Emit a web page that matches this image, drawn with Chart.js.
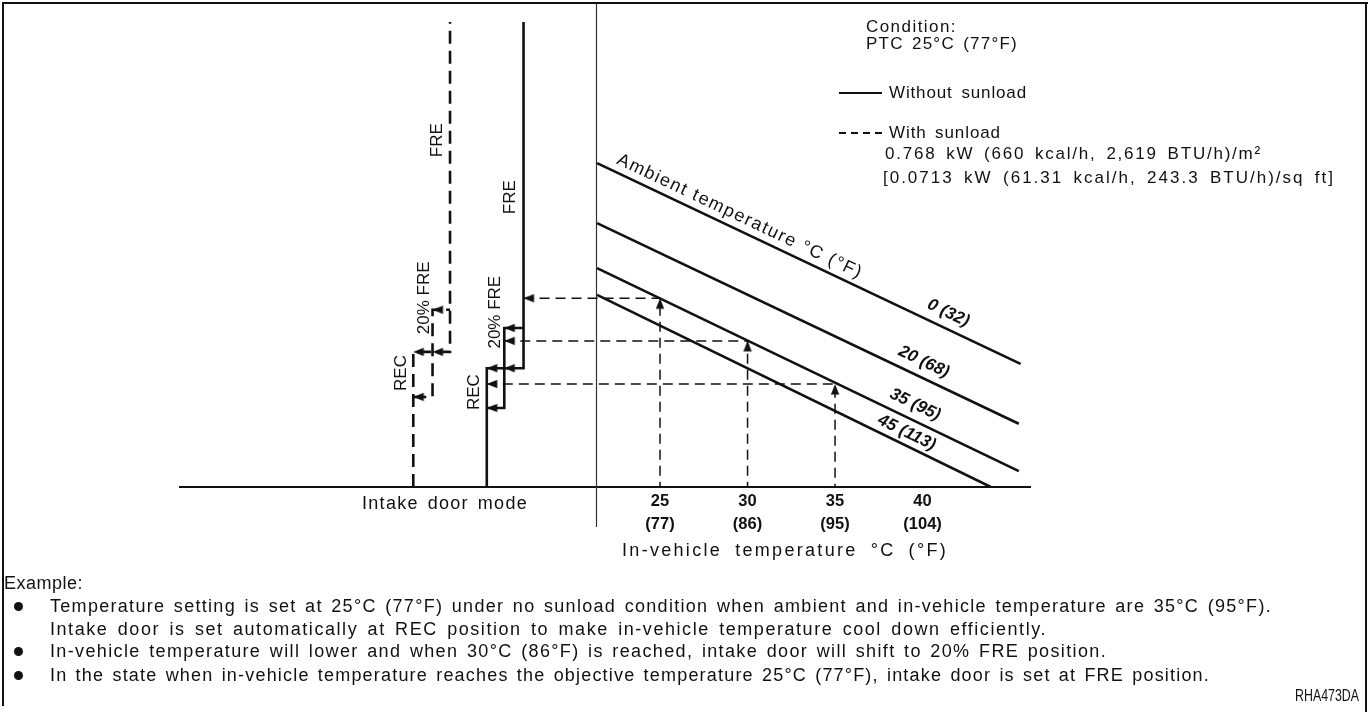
<!DOCTYPE html>
<html><head><meta charset="utf-8">
<script src="https://cdn.jsdelivr.net/npm/chart.js@4.4.1/dist/chart.umd.min.js"></script>
<style>
html,body{margin:0;padding:0;background:#fff;}
#wrap{position:relative;width:1372px;height:719px;overflow:hidden;background:#fff;}
#c{position:absolute;left:0;top:0;}
.t{position:absolute;white-space:nowrap;font-family:'Liberation Sans',Arial,sans-serif;font-size:18px;line-height:20px;color:#111;}
.lg{font-size:17px;}
.bl{position:absolute;background:#111;}
.dot{position:absolute;width:9px;height:9px;border-radius:50%;background:#111;}
</style></head><body>
<div id="wrap">
<canvas id="c" width="1372" height="719"></canvas>
<div class="bl" style="left:2px;top:2px;width:1366px;height:2px"></div>
<div class="bl" style="left:2px;top:2px;width:2px;height:704px"></div>
<div class="bl" style="left:1365px;top:2px;width:2px;height:710px"></div>

<div class="t lg" style="left:866px;top:17px" data-w="91">Condition:</div>
<div class="t lg" style="left:866px;top:34px" data-w="152">PTC 25°C (77°F)</div>
<div class="bl" style="left:839px;top:92px;width:43px;height:1.5px"></div>
<div class="t lg" style="left:889px;top:83px" data-w="138">Without sunload</div>
<div class="bl" style="left:839px;top:132px;width:7px;height:1.5px"></div>
<div class="bl" style="left:851px;top:132px;width:7px;height:1.5px"></div>
<div class="bl" style="left:863px;top:132px;width:7px;height:1.5px"></div>
<div class="bl" style="left:875px;top:132px;width:7px;height:1.5px"></div>
<div class="t lg" style="left:889px;top:123px" data-w="112">With sunload</div>
<div class="t lg" style="left:885px;top:144px" data-w="377">0.768 kW (660 kcal/h, 2,619 BTU/h)/m²</div>
<div class="t lg" style="left:883px;top:168px" data-w="452">[0.0713 kW (61.31 kcal/h, 243.3 BTU/h)/sq ft]</div>

<div class="t" style="left:362px;top:493px" data-w="166">Intake door mode</div>
<div class="t" style="left:622px;top:540px" data-w="326">In-vehicle temperature °C (°F)</div>

<div class="t" style="left:4px;top:573px" data-w="79">Example:</div>
<div class="dot" style="left:14px;top:602px"></div>
<div class="t" style="left:50px;top:596px" data-w="1222">Temperature setting is set at 25°C (77°F) under no sunload condition when ambient and in-vehicle temperature are 35°C (95°F).</div>
<div class="t" style="left:50px;top:619px" data-w="997">Intake door is set automatically at REC position to make in-vehicle temperature cool down efficiently.</div>
<div class="dot" style="left:14px;top:647px"></div>
<div class="t" style="left:50px;top:641px" data-w="1057">In-vehicle temperature will lower and when 30°C (86°F) is reached, intake door will shift to 20% FRE position.</div>
<div class="dot" style="left:14px;top:671px"></div>
<div class="t" style="left:50px;top:665px" data-w="1160">In the state when in-vehicle temperature reaches the objective temperature 25°C (77°F), intake door is set at FRE position.</div>
<div class="t" id="code" style="left:1295px;top:686px;font-size:16px;transform-origin:0 50%">RHA473DA</div>
</div>
<script>
// ---------- data (x: in-vehicle temperature °C, y: relative level 0-100) ----------
const tickTemps = [25, 30, 35, 40];
const tickFahr = ['(77)', '(86)', '(95)', '(104)'];

const ambientLabels = ['0 (32)', '20 (68)', '35 (95)', '45 (113)'];
const ambientStartX = [21.4, 21.4, 21.4, 21.4];
const ambientStartY = [67.6, 55.1, 45.7, 40.1];
const ambientEndX = [45.6, 45.5, 45.5, 43.9];
const ambientEndY = [25.7, 13.2, 3.3, 0];

const exampleTemps = [25, 30, 35];          // in-vehicle temperature
const exampleLevels = [39.4, 30.5, 21.5];   // where ambient 35 line is met

// intake door mode positions: REC, 20% FRE, FRE
const doorModes = ['REC', '20% FRE', 'FRE'];
const doorX = [15.1, 16.1, 17.2];         // without sunload
const doorXSun = [10.9, 12.0, 13.0];      // with sunload
const doorLevels = [24.8, 16.5, 33.2];    // REC top, REC bottom, 20% FRE top (without sunload)
const doorLevelsSun = [28.2, 18.8, 37.0]; // same, with sunload
const doorTop = 97.1;

const dividerX = 21.35;

// ---------- build datasets ----------
const INK = '#111';
function pts(xs, ys){ return xs.map((v,i)=>({x:v, y:ys[i]})); }

const datasets = [];
ambientLabels.forEach((lab,i)=>{
  datasets.push({label:'Ambient '+lab, data:pts([ambientStartX[i], ambientEndX[i]],[ambientStartY[i], ambientEndY[i]]),
    showLine:true, borderColor:INK, borderWidth:2.6, pointRadius:0, tension:0});
});
exampleTemps.forEach((t,i)=>{
  datasets.push({label:'guide'+t, data:pts([doorX[2-i], t, t],[exampleLevels[i], exampleLevels[i], 0]),
    showLine:true, borderColor:INK, borderWidth:1.5, borderDash:[10,6], pointRadius:0, tension:0});
});
function doorSets(xs, lv, dash, name){
  const main = pts([xs[0], xs[0], xs[2], xs[2]], [0, lv[0], lv[0], doorTop]);
  const box = pts([xs[0], xs[1], xs[1], xs[2]], [lv[1], lv[1], lv[2], lv[2]]);
  [main, box].forEach((d,k)=>datasets.push({label:name+k, data:d, showLine:true, borderColor:INK,
    borderWidth:2.6, borderDash:dash, pointRadius:0, tension:0}));
}
doorSets(doorX, doorLevels, [], 'door');
doorSets(doorXSun, doorLevelsSun, [13,7], 'doorSun');

// arrowheads: canvas with an upward arrow whose tip sits in the centre
const arrowImg = document.createElement('canvas');
arrowImg.width = 24; arrowImg.height = 24;
(function(){const g = arrowImg.getContext('2d'); g.fillStyle = INK; g.beginPath();
  g.moveTo(12, 12); g.lineTo(16.2, 22.5); g.lineTo(7.8, 22.5); g.closePath(); g.fill();})();

const leftTips = [
  {x:doorX[0], y:doorLevels[0]}, {x:doorX[1], y:doorLevels[0]}, {x:doorX[0], y:doorLevels[1]}, {x:doorX[1], y:doorLevels[2]},
  {x:doorXSun[0], y:doorLevelsSun[0]}, {x:doorXSun[1], y:doorLevelsSun[0]}, {x:doorXSun[0], y:doorLevelsSun[1]}, {x:doorXSun[1], y:doorLevelsSun[2]}
];
exampleTemps.forEach((t,i)=>leftTips.push({x:doorX[2-i], y:exampleLevels[i]}));
const upTips = exampleTemps.map((t,i)=>({x:t, y:exampleLevels[i]}));
datasets.push({label:'arrL', data:leftTips, showLine:false, pointStyle:arrowImg, pointRotation:-90, pointRadius:4});
datasets.push({label:'arrU', data:upTips, showLine:false, pointStyle:arrowImg, pointRotation:0, pointRadius:4});

// ---------- annotation plugin (texts inside plot) ----------
const FONT = "'Liberation Sans', Arial, sans-serif";
function spacedText(ctx, txt, cx, cy, target){
  ctx.letterSpacing = '0px';
  const nat = ctx.measureText(txt).width;
  if (target && 'letterSpacing' in ctx){
    const ls = (target - nat)/txt.length;
    ctx.letterSpacing = ls + 'px';
    ctx.fillText(txt, cx + ls/2, cy);
    ctx.letterSpacing = '0px';
  } else ctx.fillText(txt, cx, cy);
}
const annot = {
  id:'annot',
  beforeDatasetsDraw(chart){
    const {ctx, scales:{x}} = chart;
    const px = Math.round(x.getPixelForValue(dividerX)) + 0.5;
    ctx.save(); ctx.strokeStyle = '#333'; ctx.lineWidth = 1.2;
    ctx.beginPath(); ctx.moveTo(px, 4); ctx.lineTo(px, 527); ctx.stroke(); ctx.restore();
  },
  afterDatasetsDraw(chart){
    const {ctx, scales:{x, y}} = chart;
    ctx.save(); ctx.fillStyle = INK; ctx.textAlign = 'center'; ctx.textBaseline = 'middle';
    const at = [41.1, 39.7, 39.2, 38.8], off = [15, 15, 15, 12];
    ambientLabels.forEach((lab,i)=>{
      const x0 = x.getPixelForValue(ambientStartX[i]), y0 = y.getPixelForValue(ambientStartY[i]);
      const x1 = x.getPixelForValue(ambientEndX[i]), y1 = y.getPixelForValue(ambientEndY[i]);
      const a = Math.atan2(y1-y0, x1-x0);
      const f = (at[i]-ambientStartX[i])/(ambientEndX[i]-ambientStartX[i]);
      const bx = x0 + f*(x1-x0), by = y0 + f*(y1-y0);
      ctx.save(); ctx.translate(bx + Math.sin(a)*off[i], by - Math.cos(a)*off[i]); ctx.rotate(a);
      ctx.font = 'italic bold 17px ' + FONT; spacedText(ctx, lab, 0, 0, null); ctx.restore();
      if (i === 0){
        const f2 = (29.2-ambientStartX[0])/(ambientEndX[0]-ambientStartX[0]);
        const tx = x0 + f2*(x1-x0), ty = y0 + f2*(y1-y0);
        ctx.save(); ctx.translate(tx + Math.sin(a)*13, ty - Math.cos(a)*13); ctx.rotate(a);
        ctx.font = '18px ' + FONT; spacedText(ctx, 'Ambient temperature °C (°F)', 0, 0, 270); ctx.restore();
      }
    });
    const doorLab = [
      {t:doorModes[0], x:14.37, y:19.8}, {t:doorModes[1], x:15.57, y:36.5}, {t:doorModes[2], x:16.43, y:60.5},
      {t:doorModes[0], x:10.2, y:23.8}, {t:doorModes[1], x:11.51, y:39.5}, {t:doorModes[2], x:12.26, y:72.4}
    ];
    ctx.font = '17px ' + FONT;
    doorLab.forEach(d=>{
      ctx.save(); ctx.translate(x.getPixelForValue(d.x), y.getPixelForValue(d.y)); ctx.rotate(-Math.PI/2);
      spacedText(ctx, d.t, 0, 0, null); ctx.restore();
    });
    ctx.restore();
  }
};

Chart.defaults.font.family = FONT;
Chart.defaults.color = INK;
new Chart(document.getElementById('c'), {
  type:'scatter',
  data:{datasets},
  options:{
    responsive:false, devicePixelRatio:1, animation:false, events:[],
    layout:{autoPadding:false, padding:{left:180, right:342, top:8, bottom:187}},
    plugins:{legend:{display:false}, tooltip:{enabled:false}},
    scales:{
      x:{type:'linear', min:-2.43, max:46.14,
        grid:{display:false, drawTicks:false},
        border:{display:true, color:INK, width:2},
        afterBuildTicks:s=>{ s.ticks = tickTemps.map(v=>({value:v})); },
        afterFit:s=>{ s.height = 45; },
        ticks:{padding:3, color:INK, font:{size:16.5, weight:'bold', lineHeight:1.375},
          callback:(v)=>{ const i = tickTemps.indexOf(v); return i<0 ? '' : [String(v), tickFahr[i]]; }}
      },
      y:{type:'linear', min:0, max:100, display:false}
    }
  },
  plugins:[annot]
});

// fit HTML text widths: most of the extra room as tracking, a little as wider word gaps
document.querySelectorAll('.t[data-w]').forEach(el=>{
  el.style.letterSpacing = '0px'; el.style.wordSpacing = '0px';
  const nat = el.getBoundingClientRect().width;
  const txt = el.textContent;
  const n = txt.length, sp = (txt.match(/ /g) || []).length;
  const extra = +el.dataset.w - nat;
  if (sp > 0 && extra > 0){
    el.style.letterSpacing = (0.8*extra/n) + 'px';
    el.style.wordSpacing = (0.2*extra/sp) + 'px';
  } else {
    el.style.letterSpacing = (extra/n) + 'px';
  }
});
const code = document.getElementById('code');
code.style.transform = 'scaleX(' + (64 / code.getBoundingClientRect().width) + ')';
</script>
</body></html>
